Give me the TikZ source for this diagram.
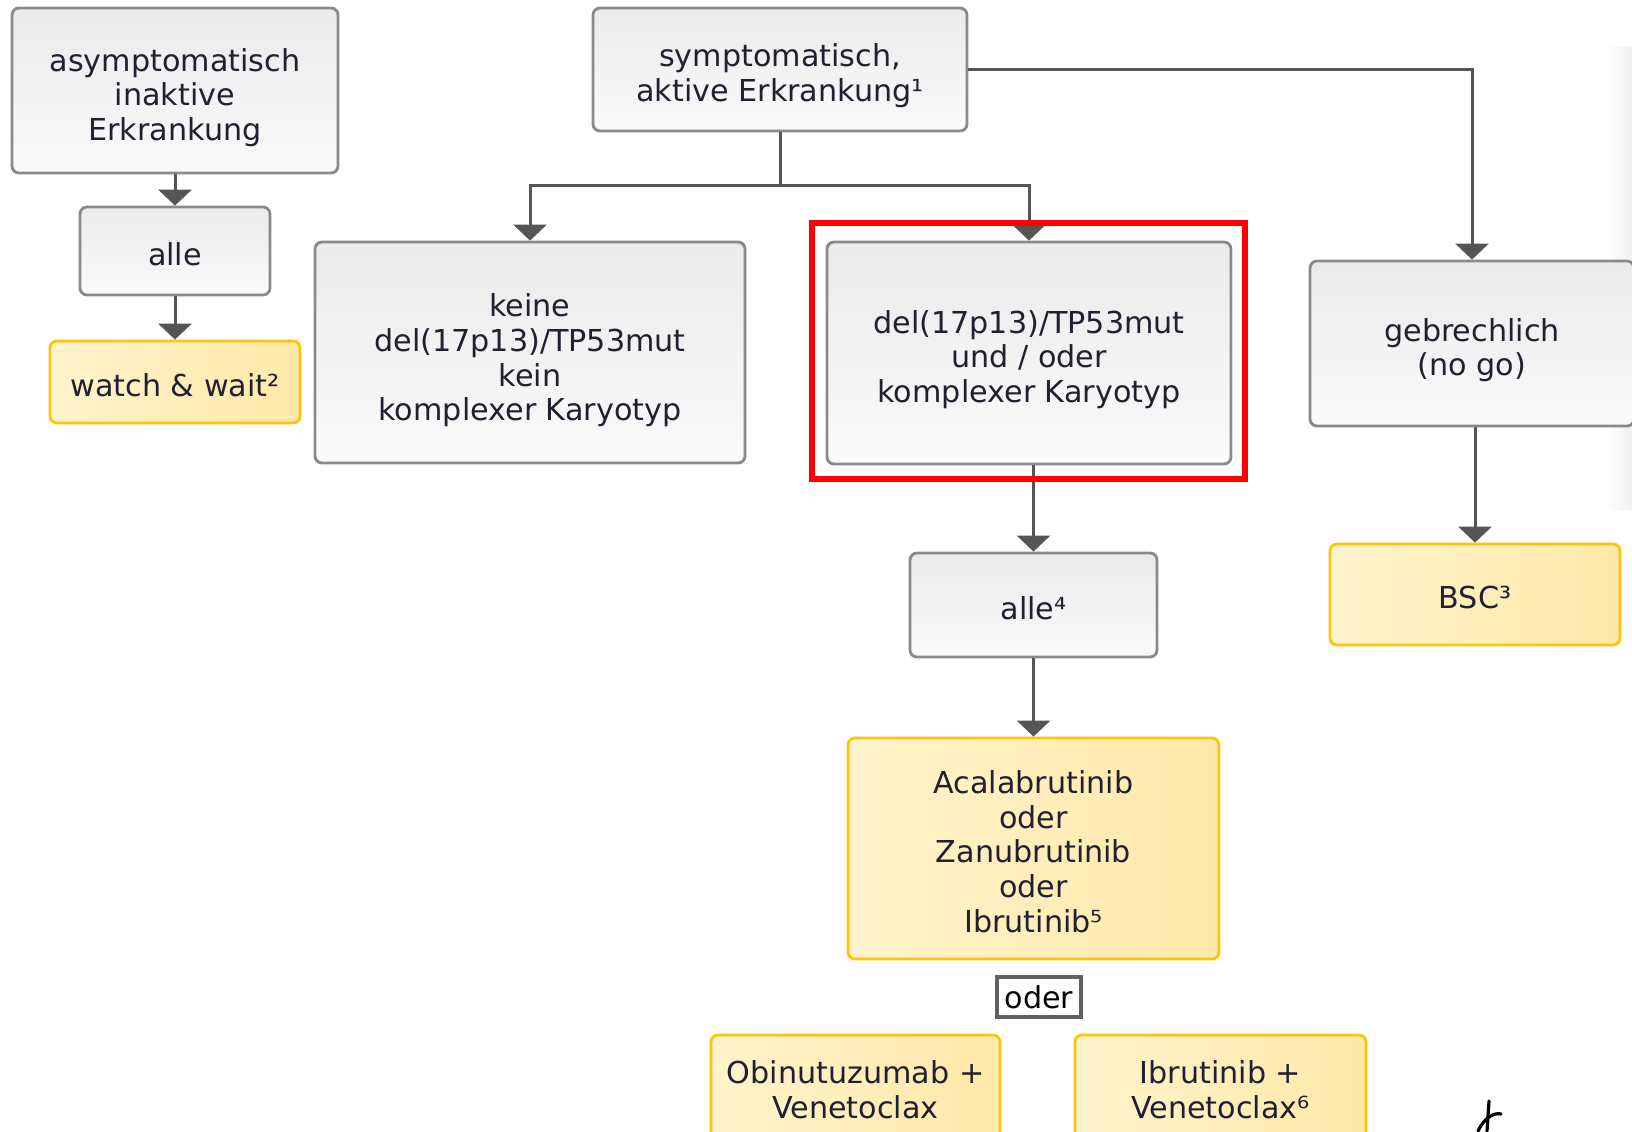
\documentclass[tikz,border=0pt]{standalone}
\usepackage{fontspec}
\setmainfont{DejaVu Sans}
\usetikzlibrary{arrows.meta}
\definecolor{boxgray}{RGB}{138,138,138}
\definecolor{arrgray}{RGB}{85,85,85}
\definecolor{txt}{RGB}{32,32,48}
\definecolor{gold}{RGB}{255,195,10}
\definecolor{yelA}{RGB}{255,233,168}
\definecolor{yelB}{RGB}{255,243,204}
\tikzset{
  box/.style={draw=boxgray,line width=1.4pt,rounded corners=3.5pt,top color=black!8,bottom color=black!2,
              align=center,text=txt,font=\fontsize{15.1}{17.35}\selectfont,inner sep=0pt},
  tbox/.style={box,draw=gold,left color=yelB,right color=yelA},
  txtdown/.style={execute at begin node={\rule{0pt}{#1}}},
  orbox/.style={draw=black!62,line width=1.6pt,fill=white,text=black,inner sep=1.5pt,
                font=\fontsize{15.1}{17.35}\selectfont,minimum width=42pt,minimum height=20pt},
  hilite/.style={draw=red,line width=2.6pt,minimum width=216.5pt,minimum height=128pt},
  arr/.style={-{Triangle[width=16.5pt,length=8pt]},line width=1.5pt,arrgray}
}

\begin{document}
\begin{tikzpicture}[x=0.5pt,y=-0.5pt]
  \useasboundingbox (0,0) rectangle (1632,1131);
  \clip (0,0) rectangle (1632,1131);
  \fill[left color=white,right color=black!6] (1606,46) rectangle (1632,509);
  % left column : inactive disease
  \node[box,txtdown=53.2pt,minimum width=163pt,minimum height=82.5pt] (as) at (175,90.5) {asymptomatisch\\inaktive\\Erkrankung};
  \node[box,txtdown=14.5pt,minimum width=95pt,minimum height=44pt] (al) at (175,251) {alle};
  \node[tbox,txtdown=14.5pt,minimum width=125pt,minimum height=41pt] (ww) at (175,382) {watch \& wait²};
  \draw[arr] (as)--(al); \draw[arr] (al)--(ww);
  % active disease
  \node[box,txtdown=34.9pt,minimum width=187pt,minimum height=61.5pt] (sy) at (780,69.5) {symptomatisch,\\aktive Erkrankung¹};
  \node[box,txtdown=71.5pt,minimum width=215pt,minimum height=110.5pt] (ke) at (530,352.5) {keine\\del(17p13)/TP53mut\\kein\\komplexer Karyotyp};
  \node[box,txtdown=52.7pt,minimum width=202pt,minimum height=111pt] (dl) at (1029,353) {del(17p13)/TP53mut\\und / oder\\komplexer Karyotyp};
  \node[box,txtdown=35.4pt,minimum width=162pt,minimum height=82.5pt] (gb) at (1472,343.5) {gebrechlich\\(no go)};
  \coordinate (j) at (780,185);
  \draw[arr] (sy)--(j) -| (ke.north);
  \draw[arr] (j) -| (dl.north);
  \draw[arr] (sy.east) -| (gb.north);
  % frail : best supportive care
  \node[tbox,txtdown=14.5pt,minimum width=145pt,minimum height=50.5pt] (bs) at (1475,594.5) {BSC³};
  \draw[arr] (bs.north |- gb.south)--(bs.north);
  % high risk : therapy
  \node[box,txtdown=14.5pt,minimum width=123.5pt,minimum height=52pt] (a4) at (1033.5,605) {alle⁴};
  \node[tbox,txtdown=83.9pt,minimum width=185.5pt,minimum height=110.5pt] (ac) at (1033.5,848.5) {Acalabrutinib\\oder\\Zanubrutinib\\oder\\Ibrutinib⁵};
  \node[orbox] (or) at (1039,997) {oder};
  \node[tbox,minimum width=144.5pt,minimum height=55pt] (ob) at (855.5,1090) {Obinutuzumab +\\Venetoclax};
  \node[tbox,minimum width=145.5pt,minimum height=55pt] (ib) at (1220.5,1090) {Ibrutinib +\\Venetoclax⁶};
  \draw[arr] (a4.north |- dl.south)--(a4.north); \draw[arr] (a4)--(ac);
  \node[hilite] (rb) at (1028.5,351) {};
  % pen stroke bottom right
  \draw[line width=1.6pt,black,line cap=round] (1489,1101)--(1487,1131);
  \draw[line width=1.6pt,black,line cap=round] (1478,1131) .. controls (1484,1118) and (1494,1112) .. (1501,1114);
\end{tikzpicture}
\end{document}
